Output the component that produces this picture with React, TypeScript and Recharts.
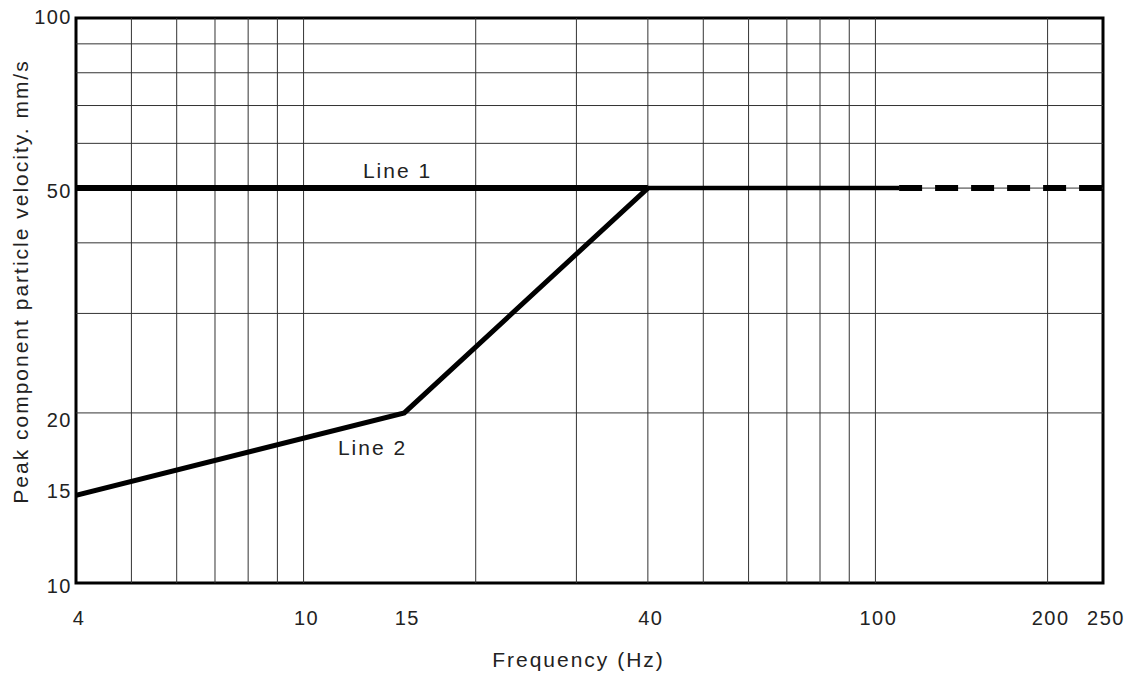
import {
  Label,
  Line,
  LineChart,
  ReferenceArea,
  ReferenceDot,
  ReferenceLine,
  XAxis,
  YAxis,
} from 'recharts'

// frequency (Hz) -> peak particle velocity (mm/s)
const line1Solid = [
  { f: 4, v: 50 },
  { f: 40, v: 50 },
]
const line1Thin = [
  { f: 40, v: 50 },
  { f: 110, v: 50 },
]
const line1Dashed = [
  { f: 110, v: 50 },
  { f: 250, v: 50 },
]
const line2 = [
  { f: 4, v: 14.3 },
  { f: 15, v: 20 },
  { f: 40, v: 50 },
]

const xTicks = [4, 10, 15, 40, 100, 200, 250]
const yTicks = [10, 15, 20, 50, 100]
const xGrid = [5, 6, 7, 8, 9, 10, 20, 30, 40, 50, 60, 70, 80, 90, 100, 200]
const yGrid = [20, 30, 40, 50, 60, 70, 80, 90]

const lineLabels = [
  { text: 'Line 1', f: 14.6, v: 53.8 },
  { text: 'Line 2', f: 13.2, v: 17.4 },
]

const font = '"Liberation Sans", Arial, sans-serif'
const textStyle = { fontFamily: font, fontSize: 21, letterSpacing: 2, fill: '#222' }
const tickStyle = { fontFamily: font, fontSize: 20, letterSpacing: 1.5, fill: '#222' }

function XTick({ x, y, payload }: any) {
  return (
    <text x={x + 3} y={y + 40} textAnchor="middle" style={tickStyle}>
      {payload.value}
    </text>
  )
}

function YTick({ x, y, payload }: any) {
  const v = payload.value
  // the original labels sit a little low in the middle of the axis
  const dy = v === 100 ? 6 : v > 10 && v < 50 ? 14 : 9.5
  return (
    <text x={x - 2} y={y + dy} textAnchor="end" style={tickStyle}>
      {v}
    </text>
  )
}

export default function App() {
  return (
    <div style={{ position: 'absolute', left: 0, top: 0, width: 1129, height: 673, background: '#fff' }}>
      <LineChart width={1129} height={673} margin={{ top: 18, right: 26, left: 0, bottom: 0 }}>
        <XAxis
          dataKey="f"
          type="number"
          scale="log"
          domain={[4, 250]}
          ticks={xTicks}
          allowDataOverflow
          axisLine={false}
          tickLine={false}
          tickSize={0}
          height={90}
          tick={<XTick />}
        >
          <Label
            content={({ viewBox }: any) => (
              <text
                x={viewBox.x + viewBox.width / 2 - 11}
                y={viewBox.y + 84}
                textAnchor="middle"
                style={textStyle}
              >
                Frequency (Hz)
              </text>
            )}
          />
        </XAxis>
        <YAxis
          type="number"
          scale="log"
          domain={[10, 100]}
          ticks={yTicks}
          allowDataOverflow
          axisLine={false}
          tickLine={false}
          tickSize={0}
          width={76}
          tick={<YTick />}
        >
          <Label
            content={({ viewBox }: any) => {
              const cx = viewBox.x + 28
              const cy = viewBox.y + viewBox.height / 2 - 19
              return (
                <text
                  x={cx}
                  y={cy}
                  textAnchor="middle"
                  transform={`rotate(-90 ${cx} ${cy})`}
                  style={textStyle}
                >
                  Peak component particle velocity. mm/s
                </text>
              )
            }}
          />
        </YAxis>

        {xGrid.map((g) => (
          <ReferenceLine key={'x' + g} x={g} stroke="#333" strokeWidth={1} />
        ))}
        {yGrid.map((g) => (
          <ReferenceLine key={'y' + g} y={g} stroke="#333" strokeWidth={1} />
        ))}
        <ReferenceArea x1={4} x2={250} y1={10} y2={100} fill="none" stroke="#000" strokeWidth={3} />

        <Line data={line1Solid} dataKey="v" stroke="#000" strokeWidth={6} dot={false} activeDot={false} isAnimationActive={false} />
        <Line data={line1Thin} dataKey="v" stroke="#000" strokeWidth={4.5} dot={false} activeDot={false} isAnimationActive={false} />
        <Line
          data={line1Dashed}
          dataKey="v"
          stroke="#000"
          strokeWidth={6}
          strokeDasharray="23 13"
          dot={false}
          activeDot={false}
          isAnimationActive={false}
        />
        <Line data={line2} dataKey="v" stroke="#000" strokeWidth={5} dot={false} activeDot={false} isAnimationActive={false} />

        {lineLabels.map((l) => (
          <ReferenceDot
            key={l.text}
            x={l.f}
            y={l.v}
            r={0}
            fill="none"
            stroke="none"
            label={{ value: l.text, position: 'center', style: textStyle }}
          />
        ))}
      </LineChart>
    </div>
  )
}
